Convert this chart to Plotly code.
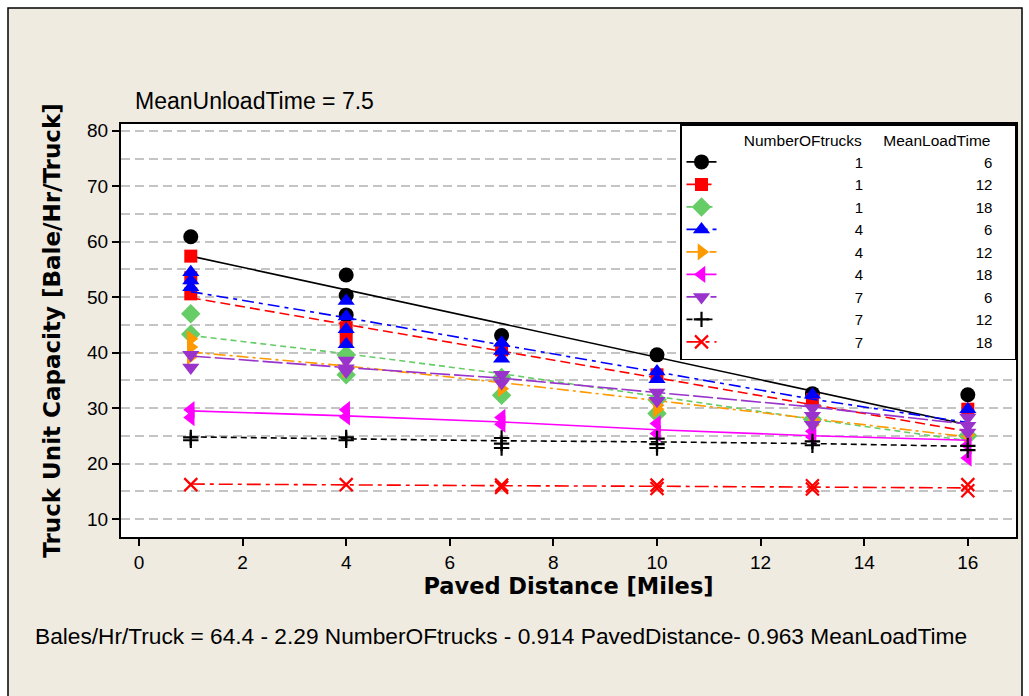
import plotly.graph_objects as go

# ---------------- data ----------------
distances = [1, 4, 7, 10, 13, 16]
number_of_trucks = [1, 1, 1, 4, 4, 4, 7, 7, 7]
mean_load_time = [6, 12, 18, 6, 12, 18, 6, 12, 18]

# observed capacities (Bale/Hr/Truck), one list per paved distance
obs_t1_l6 = [[60.9], [54.0, 50.3, 46.8], [43.1], [39.6], [32.6], [32.4]]
obs_t1_l12 = [[57.4, 53.5, 50.6], [44.5, 42.5], [40.5], [36.0], [31.5], [29.8]]
obs_t1_l18 = [[47.0, 43.3], [39.6, 36.0], [35.5, 32.3], [31.5, 29.0], [28.0], [25.0]]
obs_t4_l6 = [[54.5, 53.0, 51.8], [49.3, 46.5, 44.2, 41.5], [41.8, 40.3, 38.9], [36.6, 35.2], [32.4], [29.8]]
obs_t4_l12 = [[42.5, 41.0, 39.3], [37.0], [33.5], [30.5, 29.8], [27.8, 27.0], [25.2]]
obs_t4_l18 = [[29.7, 28.3], [29.7, 28.4], [28.3, 27.1], [27.2, 25.4], [25.8, 24.8], [23.3, 21.0]]
obs_t7_l6 = [[39.6, 37.3], [38.6, 37.2, 36.6], [36.0, 34.5], [32.8, 31.3], [30.0, 28.6, 27.0], [28.3, 26.8, 25.6]]
obs_t7_l12 = [[24.7, 24.2], [24.7, 24.2], [24.6, 23.6, 22.8], [24.5, 23.5, 22.8], [24.0, 23.3], [23.2, 22.4]]
obs_t7_l18 = [[16.2], [16.2], [16.1, 15.7], [16.1, 15.5], [16.0, 15.4], [16.2, 15.1]]

# connecting (fitted) line values per paved distance
fit_t1_l6 = [57.4, 51.3, 45.2, 39.2, 33.1, 27.0]
fit_t1_l12 = [49.9, 45.1, 40.3, 35.4, 30.6, 25.8]
fit_t1_l18 = [43.1, 39.8, 36.2, 32.1, 28.0, 24.1]
fit_t4_l6 = [51.0, 46.3, 41.4, 36.5, 31.6, 27.4]
fit_t4_l12 = [40.1, 37.6, 34.6, 31.4, 28.1, 24.8]
fit_t4_l18 = [29.5, 28.6, 27.5, 26.1, 25.0, 24.2]
fit_t7_l6 = [39.4, 37.3, 35.4, 32.8, 30.2, 27.1]
fit_t7_l12 = [24.8, 24.4, 24.1, 23.9, 23.6, 23.1]
fit_t7_l18 = [16.3, 16.1, 16.0, 15.9, 15.7, 15.6]

observations = [obs_t1_l6, obs_t1_l12, obs_t1_l18, obs_t4_l6, obs_t4_l12,
                obs_t4_l18, obs_t7_l6, obs_t7_l12, obs_t7_l18]
fits = [fit_t1_l6, fit_t1_l12, fit_t1_l18, fit_t4_l6, fit_t4_l12,
        fit_t4_l18, fit_t7_l6, fit_t7_l12, fit_t7_l18]

x_ticks = [0, 2, 4, 6, 8, 10, 12, 14, 16]
y_ticks = [10, 20, 30, 40, 50, 60, 70, 80]

# ---------------- styles ----------------
colors = ["#000000", "#FF0000", "#66CC66", "#0000FF", "#FF9900",
          "#FF00FF", "#9933CC", "#000000", "#FF0000"]
symbols = ["circle", "square", "diamond", "triangle-up", "triangle-right",
           "triangle-left", "triangle-down", "cross-thin", "x-thin"]
dashes = ["solid", "10px,5px", "6px,4px", "12px,5px,4px,5px", "12px,4px,3px,4px",
          "solid", "20px,4px", "6px,4px", "14px,5px,4px,5px"]
sizes = [15, 13, 15, 15, 15, 15, 15, 11, 13]

NBSP = "\u00a0"
FONT = "Liberation Sans, Arial, sans-serif"
PANEL = "#EFEBE1"


def legend_label(n, lt):
    gap = 29 if lt < 10 else 27
    return f"{NBSP * 32}{n}{NBSP * gap}{lt}{NBSP * 4}"


fig = go.Figure()

for i in range(len(fits)):
    xs, ys = [], []
    for d, vals in zip(distances, observations[i]):
        for v in vals:
            xs += [d, None]
            ys += [v, None]
    mline = dict(width=2.2, color=colors[i]) if "thin" in symbols[i] else dict(width=0)
    fig.add_trace(go.Scatter(
        x=distances, y=fits[i], mode="lines",
        line=dict(color=colors[i], width=1.6, dash=dashes[i]),
        showlegend=False, hoverinfo="skip"))
    fig.add_trace(go.Scatter(
        x=xs, y=ys, mode="lines+markers", connectgaps=False,
        name=legend_label(number_of_trucks[i], mean_load_time[i]),
        line=dict(color=colors[i], width=1.6, dash=dashes[i]),
        marker=dict(symbol=symbols[i], size=sizes[i], color=colors[i], line=mline)))

# layout geometry (pixels)
L, R, T, B = 121, 13, 124, 159
W, H = 1029, 696
pw, ph = W - L - R, H - T - B


def px(xp):
    return (xp - L) / pw


def py(yp):
    return (H - B - yp) / ph


white_strip = dict(type="rect", xref="paper", yref="paper", fillcolor="white",
                   line=dict(width=0), layer="above")
fig.update_layout(
    width=W, height=H,
    margin=dict(l=L, r=R, t=T, b=B, pad=0),
    paper_bgcolor=PANEL,
    plot_bgcolor="white",
    font=dict(family=FONT, color="black"),
    showlegend=True,
    legend=dict(
        x=1, y=1, xanchor="right", yanchor="top",
        bgcolor="white", bordercolor="black", borderwidth=1.5,
        font=dict(size=15, family=FONT),
        title=dict(text=f"{NBSP * 14}NumberOFtrucks{NBSP * 5}MeanLoadTime",
                   font=dict(size=15.5, family=FONT)),
        traceorder="normal",
    ),
    shapes=[
        dict(white_strip, x0=px(-2), x1=px(1031), y0=py(8), y1=py(-2)),
        dict(white_strip, x0=px(-2), x1=px(8), y0=py(700), y1=py(-2)),
        dict(white_strip, x0=px(1022), x1=px(1031), y0=py(700), y1=py(-2)),
        dict(type="rect", xref="paper", yref="paper",
             x0=px(8), x1=px(1022), y0=py(702), y1=py(8),
             fillcolor="rgba(0,0,0,0)", line=dict(color="black", width=1.5),
             layer="above"),
    ],
    annotations=[
        dict(text="MeanUnloadTime = 7.5", xref="paper", yref="paper",
             x=px(133), y=py(101), xanchor="left", yanchor="middle",
             showarrow=False, font=dict(size=23, family=FONT)),
        dict(text="Bales/Hr/Truck = 64.4 - 2.29 NumberOFtrucks - 0.914 PavedDistance- 0.963 MeanLoadTime",
             xref="paper", yref="paper", x=px(33), y=py(636),
             xanchor="left", yanchor="middle", showarrow=False,
             font=dict(size=22.7, family=FONT)),
    ],
)

fig.update_xaxes(
    range=[-0.347, 16.93], tickvals=x_ticks, ticks="outside", ticklen=7,
    tickwidth=1.5, tickcolor="black", showgrid=False, zeroline=False,
    showline=True, linecolor="black", linewidth=2, mirror=True,
    tickfont=dict(size=19, family=FONT),
    title=dict(text="<b>Paved Distance [Miles]</b>", standoff=5,
               font=dict(size=22.5, family="DejaVu Sans, sans-serif")),
)
fig.update_yaxes(
    range=[6.75, 81.23], tickvals=y_ticks, ticks="outside", ticklen=7,
    tickwidth=1.5, tickcolor="black", zeroline=False,
    showgrid=True, gridcolor="#C4C4C4", gridwidth=1.5, griddash="9px,5px",
    minor=dict(dtick=5, tick0=0, showgrid=True, gridcolor="#C4C4C4",
               gridwidth=1.5, griddash="9px,5px", ticks=""),
    showline=True, linecolor="black", linewidth=2, mirror=True,
    tickfont=dict(size=19, family=FONT),
    title=dict(text="<b>Truck Unit Capacity [Bale/Hr/Truck]</b>", standoff=20,
               font=dict(size=23, family="DejaVu Sans, sans-serif")),
)

fig.write_html("out.html")
